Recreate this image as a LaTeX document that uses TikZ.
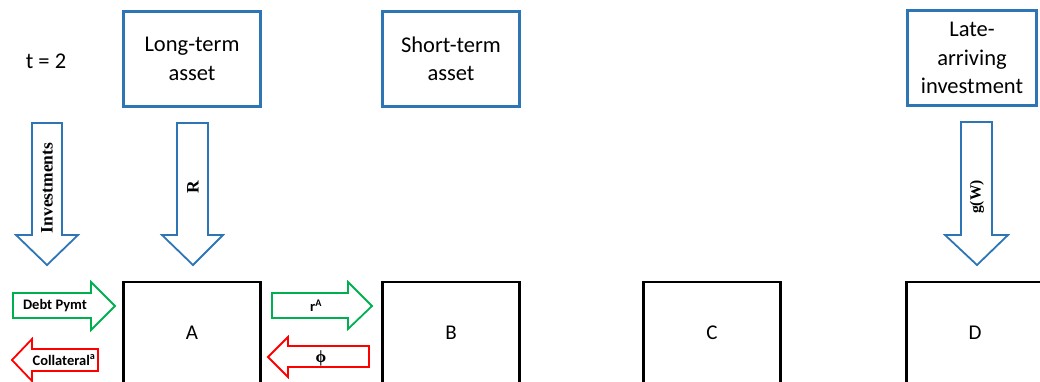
\documentclass[tikz,border=0pt]{standalone}
\usepackage{fontspec}
\usepackage{tikz}
\setmainfont{Carlito}
\newfontfamily\arrowfont{Liberation Serif}
\definecolor{assetblue}{RGB}{46,117,182}
\definecolor{paygreen}{RGB}{0,176,80}
\definecolor{backred}{RGB}{255,0,0}

\begin{document}
\begin{tikzpicture}[x=1pt,y=-1pt,
    asset/.style={draw=assetblue,line width=2.6pt,align=center,
      font=\fontsize{22.5}{28.5}\selectfont},
    bank/.style={draw=black,line width=2.6pt,minimum width=137pt,
      minimum height=102pt,font=\fontsize{21}{24}\selectfont},
    flowdown/.style={draw=assetblue,line width=1.8pt,fill=white},
    payright/.style={draw=paygreen,line width=1.8pt,fill=white},
    payleft/.style={draw=backred,line width=1.8pt,fill=white},
    vlabel/.style={rotate=90,font=\arrowfont\bfseries\fontsize{17.5}{19}\selectfont},
    hlabel/.style={font=\bfseries\fontsize{14.5}{16}\selectfont}]
    \useasboundingbox (0,0) rectangle (1040,381);
    \clip (0,0) rectangle (1040,381);

    % Draw the date and the assets on top
    \node (date) at (46,61) {\fontsize{22.5}{26}\selectfont t = 2};
    \node[asset,minimum width=137pt,minimum height=95pt] (longterm) at (192,59) {Long-term\\asset};
    \node[asset,minimum width=137pt,minimum height=95pt] (shortterm) at (451,59) {Short-term\\asset};
    \node[asset,minimum width=129pt,minimum height=95pt] (late) at (972,58) {Late-\\arriving\\investment};

    % Draw the four banks along the bottom
    \node[bank] (A) at (192,333) {A};
    \node[bank] (B) at (451,333) {B};
    \node[bank] (C) at (712,333) {C};
    \node[bank] (D) at (975,333) {D};

    % Draw the downward flows into A and D
    \draw[flowdown] (32,123) -- (62,123) -- (62,235) -- (78,235) -- (47,265) -- (16,235) -- (32,235) -- cycle;
    \draw[flowdown] (177,123) -- (208,123) -- (208,235) -- (223,235) -- (193,265) -- (162,235) -- (177,235) -- cycle;
    \draw[flowdown] (961,122) -- (992,122) -- (992,235) -- (1008,235) -- (977,265) -- (945,235) -- (961,235) -- cycle;
    \node[vlabel] (invest) at (47,188) {Investments};
    \node[vlabel] (ret) at (193,187) {R};
    \node[vlabel,font=\arrowfont\bfseries\fontsize{15.5}{17}\selectfont] (gw) at (977,197) {g(W)};

    % Draw the payments (green) and the flows back (red)
    \draw[payright] (13,293) -- (91,293) -- (91,282) -- (115,306) -- (91,330) -- (91,318) -- (13,318) -- cycle;
    \draw[payleft] (98,349) -- (32,349) -- (32,339) -- (12,360) -- (32,381) -- (32,371) -- (98,371) -- cycle;
    \draw[payright] (272,293) -- (348,293) -- (348,282) -- (372,306) -- (348,329) -- (348,318) -- (272,318) -- cycle;
    \draw[payleft] (369,346) -- (288,346) -- (288,337) -- (268,357) -- (288,377) -- (288,367) -- (369,367) -- cycle;
    \node[hlabel] (debt) at (55,306) {Debt Pymt};
    \node[hlabel] (coll) at (64,360) {Collateral\textsuperscript{a}};
    \node[hlabel] (rate) at (316,306) {r\textsuperscript{A}};
    \node[font=\arrowfont\bfseries\fontsize{17}{19}\selectfont] (phi) at (321,358) {ϕ};
\end{tikzpicture}
\end{document}
